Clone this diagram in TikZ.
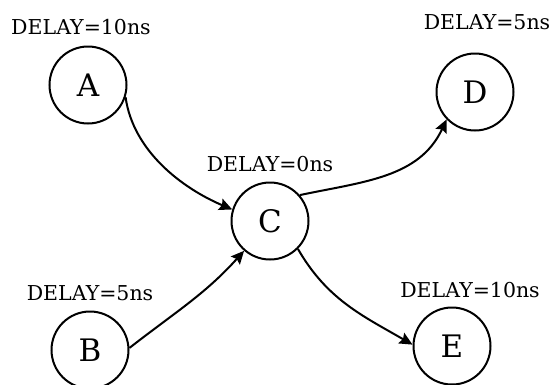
\documentclass[tikz,border=0pt]{standalone}
\usepackage{fontspec}
\setmainfont{DejaVu Serif}
\usetikzlibrary{arrows.meta}
\begin{document}
\begin{tikzpicture}[x=1pt,y=-1pt,
  gate/.style={circle,draw,line width=2pt,minimum size=77pt,inner sep=0pt,
    font=\fontsize{31}{31}\selectfont},
  delay/.style={font=\fontsize{20.5}{20.5}\selectfont,inner sep=0pt},
  wire/.style={line width=2pt,-{Stealth[length=13pt,width=12pt,inset=2pt]}}]
\useasboundingbox (0,0) rectangle (556,384);
% gates
\node[gate] (A) at (88,85) {A};
\node[gate] (B) at (90,350) {B};
\node[gate] (C) at (270,221) {C};
\node[gate] (D) at (475,92) {D};
\node[gate] (E) at (452,346) {E};
% delay annotations
\node[delay] (la) at (81,27) {DELAY=10ns};
\node[delay] (lb) at (90,293) {DELAY=5ns};
\node[delay] (lc) at (270,164) {DELAY=0ns};
\node[delay] (ld) at (487,22) {DELAY=5ns};
\node[delay] (le) at (470,290) {DELAY=10ns};
% connections
\draw[wire] (A.-18) to[out=-82,in=157,looseness=0.9] (C.163);
\draw[wire] (B.3) to[out=38,in=228] (C.-131);
\draw[wire] (C.41) to[out=12,in=245] (D.-136);
\draw[wire] (C.-45) to[out=-60,in=150] (E.178);
\end{tikzpicture}
\end{document}
